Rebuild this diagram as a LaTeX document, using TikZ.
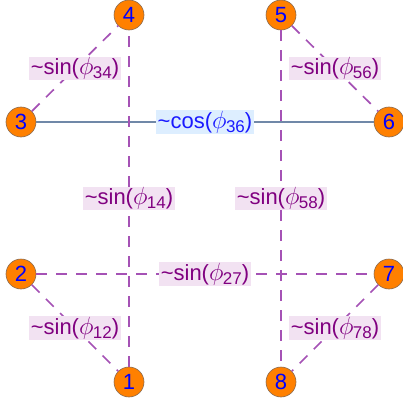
\documentclass[tikz,border=0pt]{standalone}
\usepackage{fontspec}
\setmainfont{Liberation Sans}
\usepackage{tikz}
\usetikzlibrary{positioning}

\definecolor{qorange}{HTML}{FF8000}
\definecolor{qrim}{HTML}{8A6A50}
\definecolor{sinline}{HTML}{A552B5}
\definecolor{sintext}{HTML}{800080}
\definecolor{sinfill}{HTML}{F2E2F2}
\definecolor{cosline}{HTML}{7088A8}
\definecolor{costext}{HTML}{1A1AFF}
\definecolor{cosfill}{HTML}{DDEEFF}

% coupling label: ~f(phi_ij)
\newcommand{\cpl}[2]{\textasciitilde#1({\fontsize{27}{27}\selectfont$\phi$}\kern-0.5pt{\fontsize{17}{17}\selectfont\raisebox{-4pt}{#2}})}

\begin{document}
\begin{tikzpicture}[x=1pt, y=-1pt,
    qubit/.style={circle, fill=qorange, draw=qrim, line width=0.6pt,
        minimum size=30pt, inner sep=0pt, text=blue,
        font=\fontsize{22}{22}\selectfont},
    sinlink/.style={draw=sinline, line width=1.7pt, dash pattern=on 11pt off 9pt},
    coslink/.style={draw=cosline, line width=1.7pt},
    sinlabel/.style={fill=sinfill, text=sintext, inner xsep=1.5pt, inner ysep=0.5pt,
        font=\fontsize{22}{22}\selectfont},
    coslabel/.style={fill=cosfill, text=costext, inner xsep=1.5pt, inner ysep=0.5pt,
        font=\fontsize{22}{22}\selectfont}
]
\useasboundingbox (0,0) rectangle (403,404);

\node[qubit] (q1) at (129,382) {1};
\node[qubit] (q2) at (21,274) {2};
\node[qubit] (q3) at (21,122) {3};
\node[qubit] (q4) at (129,15) {4};
\node[qubit] (q5) at (281,15) {5};
\node[qubit] (q6) at (389,122) {6};
\node[qubit] (q7) at (389,274) {7};
\node[qubit] (q8) at (281,382) {8};

\draw[coslink] (q3) -- node[coslabel] {\cpl{cos}{36}} (q6);
\draw[sinlink] (q1) -- node[sinlabel, pos=0.5] {\cpl{sin}{14}} (q4);
\draw[sinlink] (q5) -- node[sinlabel] {\cpl{sin}{58}} (q8);
\draw[sinlink] (q2) -- node[sinlabel] {\cpl{sin}{27}} (q7);
\draw[sinlink] (q3) -- node[sinlabel] {\cpl{sin}{34}} (q4);
\draw[sinlink] (q5) -- node[sinlabel] {\cpl{sin}{56}} (q6);
\draw[sinlink] (q2) -- node[sinlabel] {\cpl{sin}{12}} (q1);
\draw[sinlink] (q7) -- node[sinlabel] {\cpl{sin}{78}} (q8);

\end{tikzpicture}
\end{document}
